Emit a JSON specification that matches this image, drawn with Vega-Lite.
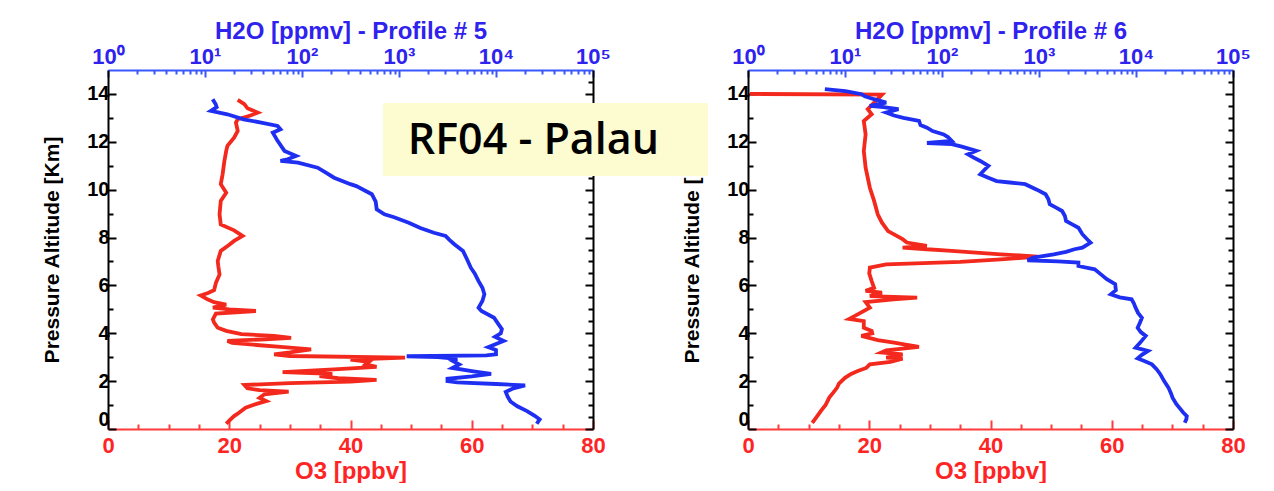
{
  "$schema": "https://vega.github.io/schema/vega-lite/v6.json",
  "background": "white",
  "padding": {"left": 41, "top": 19, "right": 0, "bottom": 0},
  "bounds": "flush",
  "spacing": 155,
  "config": {"view": {"stroke": null}, "font": "Liberation Sans"},
  "datasets": {
    "o3_5": [
      {"alt": 0.22, "o3": 19.5}, {"alt": 0.35, "o3": 20.0}, {"alt": 0.54, "o3": 20.8}, {"alt": 0.68, "o3": 21.6}, {"alt": 0.89, "o3": 22.7},
      {"alt": 1.05, "o3": 24.5}, {"alt": 1.17, "o3": 26.1}, {"alt": 1.3, "o3": 25.0}, {"alt": 1.45, "o3": 25.8}, {"alt": 1.56, "o3": 29.8},
      {"alt": 1.62, "o3": 25.0}, {"alt": 1.7, "o3": 23.0}, {"alt": 1.84, "o3": 22.5}, {"alt": 1.92, "o3": 30.0}, {"alt": 1.98, "o3": 40.0},
      {"alt": 2.05, "o3": 44.3}, {"alt": 2.12, "o3": 38.0}, {"alt": 2.21, "o3": 34.9}, {"alt": 2.3, "o3": 37.0}, {"alt": 2.38, "o3": 28.8},
      {"alt": 2.5, "o3": 38.0}, {"alt": 2.6, "o3": 44.3}, {"alt": 2.7, "o3": 42.5}, {"alt": 2.8, "o3": 43.0}, {"alt": 2.9, "o3": 40.0},
      {"alt": 2.98, "o3": 49.0}, {"alt": 3.05, "o3": 30.0}, {"alt": 3.12, "o3": 27.4}, {"alt": 3.2, "o3": 30.0}, {"alt": 3.33, "o3": 33.5},
      {"alt": 3.42, "o3": 29.0}, {"alt": 3.5, "o3": 25.0}, {"alt": 3.6, "o3": 20.5}, {"alt": 3.68, "o3": 19.7}, {"alt": 3.75, "o3": 26.0},
      {"alt": 3.81, "o3": 30.2}, {"alt": 3.89, "o3": 27.4}, {"alt": 3.96, "o3": 22.0}, {"alt": 4.1, "o3": 19.5}, {"alt": 4.23, "o3": 18.1},
      {"alt": 4.45, "o3": 17.5}, {"alt": 4.58, "o3": 17.3}, {"alt": 4.82, "o3": 17.8}, {"alt": 4.93, "o3": 24.4}, {"alt": 5.0, "o3": 20.0},
      {"alt": 5.07, "o3": 17.3}, {"alt": 5.2, "o3": 19.5}, {"alt": 5.3, "o3": 17.5}, {"alt": 5.42, "o3": 16.4}, {"alt": 5.58, "o3": 15.3},
      {"alt": 5.68, "o3": 16.5}, {"alt": 5.8, "o3": 17.5}, {"alt": 6.11, "o3": 17.8}, {"alt": 6.46, "o3": 18.4}, {"alt": 6.8, "o3": 18.2},
      {"alt": 7.02, "o3": 18.1}, {"alt": 7.44, "o3": 18.6}, {"alt": 7.7, "o3": 20.0}, {"alt": 7.86, "o3": 20.8}, {"alt": 8.07, "o3": 22.2},
      {"alt": 8.3, "o3": 20.8}, {"alt": 8.55, "o3": 18.6}, {"alt": 8.97, "o3": 18.4}, {"alt": 9.53, "o3": 18.6}, {"alt": 9.87, "o3": 19.5},
      {"alt": 10.23, "o3": 18.6}, {"alt": 10.64, "o3": 18.9}, {"alt": 11.2, "o3": 19.2}, {"alt": 11.62, "o3": 19.5}, {"alt": 11.83, "o3": 19.7},
      {"alt": 12.17, "o3": 20.8}, {"alt": 12.45, "o3": 21.4}, {"alt": 12.8, "o3": 21.1}, {"alt": 12.94, "o3": 21.4}, {"alt": 13.1, "o3": 23.5},
      {"alt": 13.22, "o3": 24.7}, {"alt": 13.4, "o3": 23.0}, {"alt": 13.57, "o3": 22.5}, {"alt": 13.75, "o3": 21.4}
    ],
    "h2o_5": [
      {"alt": 0.22, "h2o": 26300}, {"alt": 0.4, "h2o": 28200}, {"alt": 0.55, "h2o": 25100}, {"alt": 0.75, "h2o": 20900}, {"alt": 0.95, "h2o": 16600},
      {"alt": 1.15, "h2o": 14100}, {"alt": 1.35, "h2o": 13200}, {"alt": 1.55, "h2o": 12600}, {"alt": 1.7, "h2o": 15100}, {"alt": 1.82, "h2o": 19950},
      {"alt": 1.88, "h2o": 10000}, {"alt": 1.95, "h2o": 3980}, {"alt": 2.0, "h2o": 3160}, {"alt": 2.1, "h2o": 3160}, {"alt": 2.2, "h2o": 5620},
      {"alt": 2.3, "h2o": 8910}, {"alt": 2.42, "h2o": 5620}, {"alt": 2.55, "h2o": 3550}, {"alt": 2.7, "h2o": 4170}, {"alt": 2.85, "h2o": 3550},
      {"alt": 2.93, "h2o": 3980}, {"alt": 3.0, "h2o": 2510}, {"alt": 3.04, "h2o": 1200}, {"alt": 3.08, "h2o": 7940}, {"alt": 3.12, "h2o": 10000},
      {"alt": 3.3, "h2o": 10000}, {"alt": 3.42, "h2o": 8320}, {"alt": 3.55, "h2o": 10000}, {"alt": 3.68, "h2o": 12000}, {"alt": 3.85, "h2o": 9770},
      {"alt": 4.0, "h2o": 11200}, {"alt": 4.17, "h2o": 11500}, {"alt": 4.4, "h2o": 10500}, {"alt": 4.65, "h2o": 9550}, {"alt": 4.93, "h2o": 7080},
      {"alt": 5.07, "h2o": 6610}, {"alt": 5.35, "h2o": 7240}, {"alt": 5.63, "h2o": 7590}, {"alt": 5.9, "h2o": 7240}, {"alt": 6.18, "h2o": 6610},
      {"alt": 6.5, "h2o": 6030}, {"alt": 6.74, "h2o": 5500}, {"alt": 7.1, "h2o": 5010}, {"alt": 7.44, "h2o": 4570}, {"alt": 7.72, "h2o": 3720},
      {"alt": 7.9, "h2o": 3310}, {"alt": 8.07, "h2o": 3020}, {"alt": 8.2, "h2o": 2290}, {"alt": 8.4, "h2o": 1660}, {"alt": 8.62, "h2o": 1260},
      {"alt": 8.85, "h2o": 891}, {"alt": 8.97, "h2o": 708}, {"alt": 9.18, "h2o": 589}, {"alt": 9.5, "h2o": 575}, {"alt": 9.81, "h2o": 525},
      {"alt": 10.15, "h2o": 363}, {"alt": 10.23, "h2o": 316}, {"alt": 10.5, "h2o": 214}, {"alt": 10.7, "h2o": 178}, {"alt": 10.92, "h2o": 145},
      {"alt": 11.13, "h2o": 91}, {"alt": 11.2, "h2o": 60}, {"alt": 11.27, "h2o": 71}, {"alt": 11.41, "h2o": 87}, {"alt": 11.62, "h2o": 66},
      {"alt": 12.04, "h2o": 56}, {"alt": 12.38, "h2o": 50}, {"alt": 12.52, "h2o": 60}, {"alt": 12.66, "h2o": 56}, {"alt": 12.8, "h2o": 38},
      {"alt": 12.94, "h2o": 25}, {"alt": 13.15, "h2o": 17}, {"alt": 13.29, "h2o": 11.5}, {"alt": 13.45, "h2o": 13.2}, {"alt": 13.57, "h2o": 12.9},
      {"alt": 13.78, "h2o": 12.0}
    ],
    "o3_6": [
      {"alt": 0.26, "o3": 10.6}, {"alt": 0.5, "o3": 11.3}, {"alt": 0.75, "o3": 12.0}, {"alt": 1.0, "o3": 12.8}, {"alt": 1.31, "o3": 13.4},
      {"alt": 1.5, "o3": 14.0}, {"alt": 1.73, "o3": 14.7}, {"alt": 1.9, "o3": 15.0}, {"alt": 2.14, "o3": 16.0}, {"alt": 2.3, "o3": 17.0},
      {"alt": 2.42, "o3": 18.1}, {"alt": 2.55, "o3": 19.5}, {"alt": 2.7, "o3": 20.1}, {"alt": 2.8, "o3": 23.5}, {"alt": 2.94, "o3": 25.5},
      {"alt": 2.98, "o3": 22.8}, {"alt": 3.12, "o3": 25.5}, {"alt": 3.2, "o3": 22.0}, {"alt": 3.29, "o3": 22.8}, {"alt": 3.43, "o3": 28.2},
      {"alt": 3.55, "o3": 25.5}, {"alt": 3.61, "o3": 24.1}, {"alt": 3.71, "o3": 21.4}, {"alt": 3.89, "o3": 18.7}, {"alt": 4.0, "o3": 20.5},
      {"alt": 4.1, "o3": 20.4}, {"alt": 4.23, "o3": 19.1}, {"alt": 4.51, "o3": 19.1}, {"alt": 4.6, "o3": 16.7}, {"alt": 4.79, "o3": 18.1},
      {"alt": 5.07, "o3": 20.1}, {"alt": 5.3, "o3": 19.4}, {"alt": 5.42, "o3": 24.0}, {"alt": 5.49, "o3": 27.9}, {"alt": 5.55, "o3": 20.1},
      {"alt": 5.7, "o3": 22.1}, {"alt": 5.77, "o3": 19.4}, {"alt": 5.9, "o3": 20.8}, {"alt": 6.18, "o3": 20.4}, {"alt": 6.5, "o3": 20.0},
      {"alt": 6.74, "o3": 20.1}, {"alt": 6.88, "o3": 22.8}, {"alt": 6.98, "o3": 35.0}, {"alt": 7.09, "o3": 41.7}, {"alt": 7.2, "o3": 47.8},
      {"alt": 7.3, "o3": 41.7}, {"alt": 7.37, "o3": 37.6}, {"alt": 7.45, "o3": 33.0}, {"alt": 7.51, "o3": 29.5}, {"alt": 7.58, "o3": 25.5},
      {"alt": 7.65, "o3": 29.5}, {"alt": 7.79, "o3": 26.2}, {"alt": 7.93, "o3": 25.5}, {"alt": 8.27, "o3": 23.1}, {"alt": 8.62, "o3": 22.1},
      {"alt": 8.97, "o3": 21.4}, {"alt": 9.53, "o3": 20.8}, {"alt": 10.08, "o3": 20.1}, {"alt": 10.92, "o3": 19.4}, {"alt": 11.62, "o3": 19.1},
      {"alt": 12.31, "o3": 19.4}, {"alt": 12.87, "o3": 19.1}, {"alt": 13.15, "o3": 20.4}, {"alt": 13.36, "o3": 19.75}, {"alt": 13.71, "o3": 21.1},
      {"alt": 13.97, "o3": 22.1}, {"alt": 14.0, "o3": 0.3}
    ],
    "h2o_6": [
      {"alt": 0.26, "h2o": 31800}, {"alt": 0.4, "h2o": 33000}, {"alt": 0.54, "h2o": 33400}, {"alt": 0.7, "h2o": 30500}, {"alt": 0.82, "h2o": 28900},
      {"alt": 1.05, "h2o": 26000}, {"alt": 1.31, "h2o": 23800}, {"alt": 1.5, "h2o": 22900}, {"alt": 1.73, "h2o": 21600}, {"alt": 2.0, "h2o": 19500},
      {"alt": 2.29, "h2o": 17800}, {"alt": 2.5, "h2o": 16300}, {"alt": 2.7, "h2o": 14600}, {"alt": 2.85, "h2o": 12000}, {"alt": 2.95, "h2o": 10400},
      {"alt": 3.1, "h2o": 11500}, {"alt": 3.26, "h2o": 13300}, {"alt": 3.4, "h2o": 9900}, {"alt": 3.6, "h2o": 11000}, {"alt": 3.89, "h2o": 12600},
      {"alt": 4.05, "h2o": 11200}, {"alt": 4.23, "h2o": 10400}, {"alt": 4.45, "h2o": 11000}, {"alt": 4.65, "h2o": 11500}, {"alt": 4.85, "h2o": 10500},
      {"alt": 5.07, "h2o": 9900}, {"alt": 5.25, "h2o": 9500}, {"alt": 5.42, "h2o": 9000}, {"alt": 5.5, "h2o": 6800}, {"alt": 5.63, "h2o": 5500},
      {"alt": 5.8, "h2o": 6200}, {"alt": 6.05, "h2o": 6100}, {"alt": 6.26, "h2o": 5000}, {"alt": 6.46, "h2o": 4350}, {"alt": 6.67, "h2o": 3750},
      {"alt": 6.81, "h2o": 2550}, {"alt": 6.95, "h2o": 2550}, {"alt": 7.0, "h2o": 1570}, {"alt": 7.05, "h2o": 760}, {"alt": 7.16, "h2o": 875},
      {"alt": 7.3, "h2o": 1420}, {"alt": 7.4, "h2o": 1900}, {"alt": 7.51, "h2o": 2320}, {"alt": 7.58, "h2o": 2800}, {"alt": 7.79, "h2o": 3400},
      {"alt": 7.95, "h2o": 3100}, {"alt": 8.14, "h2o": 2800}, {"alt": 8.41, "h2o": 2550}, {"alt": 8.55, "h2o": 2200}, {"alt": 8.69, "h2o": 1900},
      {"alt": 8.9, "h2o": 1850}, {"alt": 9.11, "h2o": 1730}, {"alt": 9.25, "h2o": 1500}, {"alt": 9.39, "h2o": 1290}, {"alt": 9.6, "h2o": 1250},
      {"alt": 9.81, "h2o": 1170}, {"alt": 10.0, "h2o": 950}, {"alt": 10.23, "h2o": 720}, {"alt": 10.3, "h2o": 500}, {"alt": 10.36, "h2o": 366},
      {"alt": 10.5, "h2o": 300}, {"alt": 10.64, "h2o": 248}, {"alt": 10.8, "h2o": 270}, {"alt": 10.99, "h2o": 301}, {"alt": 11.2, "h2o": 248},
      {"alt": 11.35, "h2o": 210}, {"alt": 11.48, "h2o": 185}, {"alt": 11.62, "h2o": 225}, {"alt": 11.8, "h2o": 160}, {"alt": 11.9, "h2o": 126},
      {"alt": 11.95, "h2o": 70}, {"alt": 12.04, "h2o": 126}, {"alt": 12.2, "h2o": 115}, {"alt": 12.31, "h2o": 104}, {"alt": 12.45, "h2o": 80},
      {"alt": 12.59, "h2o": 70}, {"alt": 12.7, "h2o": 60}, {"alt": 12.87, "h2o": 58}, {"alt": 13.0, "h2o": 40}, {"alt": 13.1, "h2o": 32},
      {"alt": 13.22, "h2o": 26.6}, {"alt": 13.36, "h2o": 35.6}, {"alt": 13.45, "h2o": 25}, {"alt": 13.5, "h2o": 18}, {"alt": 13.64, "h2o": 26.6},
      {"alt": 13.78, "h2o": 19.9}, {"alt": 13.9, "h2o": 16}, {"alt": 13.99, "h2o": 14.9}, {"alt": 14.12, "h2o": 10.1}, {"alt": 14.2, "h2o": 6.2}
    ],
    "label": [{"text": "RF04 - Palau"}]
  },
  "hconcat": [
    {
      "width": 485,
      "height": 359,
      "layer": [
        {
          "data": {"name": "o3_5"},
          "mark": {"type": "line", "color": "#f2291c", "strokeWidth": 3.8},
          "encoding": {
            "x": {"field": "o3", "type": "quantitative", "scale": {"domain": [0, 80], "nice": false, "zero": false},
              "axis": {"orient": "bottom", "values": [0,5,10,15,20,25,30,35,40,45,50,55,60,65,70,75,80],
                "labelExpr": "datum.value % 20 === 0 ? datum.label : ''", "labelFlush": false, "labelOverlap": false,
                "tickSize": {"condition": {"test": "datum.value % 20 === 0", "value": -9}, "value": -5},
                "tickColor": "#ff3b3b", "tickWidth": 2, "domainColor": "#ff3b3b", "domainWidth": 2, "grid": false,
                "labelColor": "#ff2424", "labelFont": "Liberation Sans", "labelFontSize": 22, "labelFontWeight": "bold", "labelPadding": 15,
                "title": "O3 [ppbv]", "titleColor": "#ff2424", "titleFont": "Liberation Sans", "titleFontSize": 24, "titleFontWeight": "bold", "titlePadding": -1}},
            "y": {"field": "alt", "type": "quantitative", "scale": {"domain": [0, 15], "nice": false, "zero": false},
              "axis": {"orient": "left", "values": [0,0.5,1,1.5,2,2.5,3,3.5,4,4.5,5,5.5,6,6.5,7,7.5,8,8.5,9,9.5,10,10.5,11,11.5,12,12.5,13,13.5,14,14.5],
                "format": "d", "labelExpr": "datum.value % 2 === 0 ? datum.label : ''", "labelFlush": true, "labelOverlap": false,
                "tickSize": {"condition": {"test": "datum.value % 2 === 0", "value": -8}, "value": -5},
                "tickColor": "black", "tickWidth": 2, "domainColor": "black", "domainWidth": 2, "grid": false,
                "labelColor": "black", "labelFont": "Liberation Sans", "labelFontSize": 20, "labelFontWeight": "bold", "labelPadding": 7,
                "title": "Pressure Altitude [Km]", "titleColor": "black", "titleFont": "Liberation Sans", "titleFontSize": 21, "titleFontWeight": "bold", "titlePadding": 24}},
            "order": {"value": null}
          }
        },
        {
          "data": {"name": "h2o_5"},
          "mark": {"type": "line", "color": "#1f2ff2", "strokeWidth": 3.8},
          "encoding": {
            "x": {"field": "h2o", "type": "quantitative", "scale": {"type": "log", "domain": [1, 100000], "nice": false},
              "axis": {"orient": "top", "values": [1,2,3,4,5,6,7,8,9,10,20,30,40,50,60,70,80,90,100,200,300,400,500,600,700,800,900,1000,2000,3000,4000,5000,6000,7000,8000,9000,10000,20000,30000,40000,50000,60000,70000,80000,90000,100000],
                "labelExpr": "indexof([1,10,100,1000,10000,100000], datum.value) >= 0 ? '10' + ['⁰','¹','²','³','⁴','⁵'][round(log(datum.value)/LN10)] : ''",
                "labelFlush": false, "labelOverlap": false,
                "tickSize": {"condition": {"test": "indexof([1,10,100,1000,10000,100000], datum.value) >= 0", "value": -7}, "value": -4},
                "tickColor": "#3b57ff", "tickWidth": 2, "domainColor": "#3b57ff", "domainWidth": 2, "grid": false,
                "labelColor": "#2f22ee", "labelFont": "Liberation Sans", "labelFontSize": 22, "labelFontWeight": "bold", "labelPadding": 9,
                "title": "H2O [ppmv] - Profile # 5", "titleColor": "#2f22ee", "titleFont": "Liberation Sans", "titleFontSize": 24, "titleFontWeight": "bold", "titlePadding": -1}},
            "y": {"field": "alt", "type": "quantitative", "scale": {"domain": [0, 15], "nice": false, "zero": false},
              "axis": {"orient": "right", "values": [0,0.5,1,1.5,2,2.5,3,3.5,4,4.5,5,5.5,6,6.5,7,7.5,8,8.5,9,9.5,10,10.5,11,11.5,12,12.5,13,13.5,14,14.5],
                "labels": false, "title": null,
                "tickSize": {"condition": {"test": "datum.value % 2 === 0", "value": -8}, "value": -5},
                "tickColor": "black", "tickWidth": 2, "domainColor": "black", "domainWidth": 2, "grid": false}},
            "order": {"value": null}
          }
        }
      ],
      "resolve": {"scale": {"x": "independent", "y": "independent"}}
    },
    {
      "width": 485,
      "height": 359,
      "layer": [
        {
          "data": {"name": "o3_6"},
          "mark": {"type": "line", "color": "#f2291c", "strokeWidth": 3.8},
          "encoding": {
            "x": {"field": "o3", "type": "quantitative", "scale": {"domain": [0, 80], "nice": false, "zero": false},
              "axis": {"orient": "bottom", "values": [0,5,10,15,20,25,30,35,40,45,50,55,60,65,70,75,80],
                "labelExpr": "datum.value % 20 === 0 ? datum.label : ''", "labelFlush": false, "labelOverlap": false,
                "tickSize": {"condition": {"test": "datum.value % 20 === 0", "value": -9}, "value": -5},
                "tickColor": "#ff3b3b", "tickWidth": 2, "domainColor": "#ff3b3b", "domainWidth": 2, "grid": false,
                "labelColor": "#ff2424", "labelFont": "Liberation Sans", "labelFontSize": 22, "labelFontWeight": "bold", "labelPadding": 15,
                "title": "O3 [ppbv]", "titleColor": "#ff2424", "titleFont": "Liberation Sans", "titleFontSize": 24, "titleFontWeight": "bold", "titlePadding": -1}},
            "y": {"field": "alt", "type": "quantitative", "scale": {"domain": [0, 15], "nice": false, "zero": false},
              "axis": {"orient": "left", "values": [0,0.5,1,1.5,2,2.5,3,3.5,4,4.5,5,5.5,6,6.5,7,7.5,8,8.5,9,9.5,10,10.5,11,11.5,12,12.5,13,13.5,14,14.5],
                "format": "d", "labelExpr": "datum.value % 2 === 0 ? datum.label : ''", "labelFlush": true, "labelOverlap": false,
                "tickSize": {"condition": {"test": "datum.value % 2 === 0", "value": -8}, "value": -5},
                "tickColor": "black", "tickWidth": 2, "domainColor": "black", "domainWidth": 2, "grid": false,
                "labelColor": "black", "labelFont": "Liberation Sans", "labelFontSize": 20, "labelFontWeight": "bold", "labelPadding": 7,
                "title": "Pressure Altitude [Km]", "titleColor": "black", "titleFont": "Liberation Sans", "titleFontSize": 21, "titleFontWeight": "bold", "titlePadding": 24}},
            "order": {"value": null}
          }
        },
        {
          "data": {"name": "h2o_6"},
          "mark": {"type": "line", "color": "#1f2ff2", "strokeWidth": 3.8},
          "encoding": {
            "x": {"field": "h2o", "type": "quantitative", "scale": {"type": "log", "domain": [1, 100000], "nice": false},
              "axis": {"orient": "top", "values": [1,2,3,4,5,6,7,8,9,10,20,30,40,50,60,70,80,90,100,200,300,400,500,600,700,800,900,1000,2000,3000,4000,5000,6000,7000,8000,9000,10000,20000,30000,40000,50000,60000,70000,80000,90000,100000],
                "labelExpr": "indexof([1,10,100,1000,10000,100000], datum.value) >= 0 ? '10' + ['⁰','¹','²','³','⁴','⁵'][round(log(datum.value)/LN10)] : ''",
                "labelFlush": false, "labelOverlap": false,
                "tickSize": {"condition": {"test": "indexof([1,10,100,1000,10000,100000], datum.value) >= 0", "value": -7}, "value": -4},
                "tickColor": "#3b57ff", "tickWidth": 2, "domainColor": "#3b57ff", "domainWidth": 2, "grid": false,
                "labelColor": "#2f22ee", "labelFont": "Liberation Sans", "labelFontSize": 22, "labelFontWeight": "bold", "labelPadding": 9,
                "title": "H2O [ppmv] - Profile # 6", "titleColor": "#2f22ee", "titleFont": "Liberation Sans", "titleFontSize": 24, "titleFontWeight": "bold", "titlePadding": -1}},
            "y": {"field": "alt", "type": "quantitative", "scale": {"domain": [0, 15], "nice": false, "zero": false},
              "axis": {"orient": "right", "values": [0,0.5,1,1.5,2,2.5,3,3.5,4,4.5,5,5.5,6,6.5,7,7.5,8,8.5,9,9.5,10,10.5,11,11.5,12,12.5,13,13.5,14,14.5],
                "labels": false, "title": null,
                "tickSize": {"condition": {"test": "datum.value % 2 === 0", "value": -8}, "value": -5},
                "tickColor": "black", "tickWidth": 2, "domainColor": "black", "domainWidth": 2, "grid": false}},
            "order": {"value": null}
          }
        },
        {
          "data": {"name": "label"},
          "mark": {"type": "rect", "color": "#fcfcd0", "clip": false},
          "encoding": {
            "x": {"datum": -60.2, "type": "quantitative", "scale": {"domain": [0, 80], "nice": false, "zero": false}, "axis": null},
            "x2": {"datum": -6.6},
            "y": {"datum": 10.57, "type": "quantitative", "scale": {"domain": [0, 15], "nice": false, "zero": false}, "axis": null},
            "y2": {"datum": 13.62}
          }
        },
        {
          "data": {"name": "label"},
          "mark": {"type": "text", "font": "Open Sans", "fontWeight": 600, "fontSize": 43, "color": "black", "align": "center", "baseline": "middle", "clip": false},
          "encoding": {
            "x": {"datum": -35.4, "type": "quantitative", "scale": {"domain": [0, 80], "nice": false, "zero": false}, "axis": null},
            "y": {"datum": 12.03, "type": "quantitative", "scale": {"domain": [0, 15], "nice": false, "zero": false}, "axis": null},
            "text": {"field": "text"}
          }
        }
      ],
      "resolve": {"scale": {"x": "independent", "y": "independent"}}
    }
  ]
}
